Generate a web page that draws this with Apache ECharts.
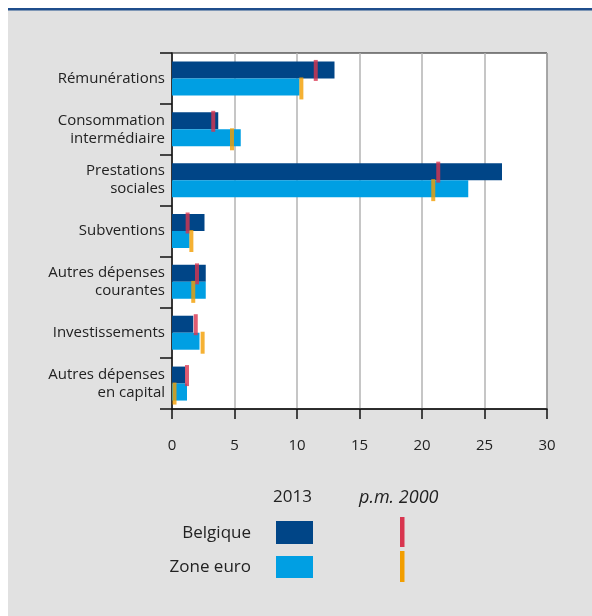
<!DOCTYPE html>
<html>
<head>
<meta charset="utf-8">
<script src="https://cdn.jsdelivr.net/npm/echarts@6/dist/echarts.min.js"></script>
<style>
html,body{margin:0;padding:0;background:#fff;}
#chart{width:592px;height:616px;}
</style>
</head>
<body>
<div id="chart"></div>
<script>
var categories = ['Rémunérations', 'Consommation\nintermédiaire', 'Prestations\nsociales', 'Subventions', 'Autres dépenses\ncourantes', 'Investissements', 'Autres dépenses\nen capital'];
var belgique2013 = [13.0, 3.7, 26.4, 2.6, 2.7, 1.7, 1.05];
var zoneEuro2013 = [10.2, 5.5, 23.7, 1.4, 2.7, 2.2, 1.2];
var belgique2000 = [11.5, 3.3, 21.3, 1.25, 2.0, 1.9, 1.2];
var zoneEuro2000 = [10.35, 4.8, 20.9, 1.55, 1.7, 2.45, 0.2];
var xTicks = [0, 5, 10, 15, 20, 25, 30];

var darkBlue = '#004587';
var lightBlue = '#009fe3';
var red = '#d8354f';
var orange = '#f29e00';
var font = 'Open Sans';

var chart = echarts.init(document.getElementById('chart'), null, {renderer: 'canvas'});
chart.setOption({
  animation: false,
  backgroundColor: '#ffffff',
  textStyle: {fontFamily: font},
  grid: {left: 172, top: 53, right: 45, bottom: 207, show: true, borderColor: '#111', borderWidth: 1, backgroundColor: '#ffffff', containLabel: false},
  xAxis: {
    type: 'value', min: xTicks[0], max: xTicks[xTicks.length - 1], interval: 5,
    axisLine: {show: true, lineStyle: {color: '#111', width: 1.5}},
    axisTick: {show: true, length: 10, lineStyle: {color: '#111', width: 1.5}},
    axisLabel: {margin: 29, fontSize: 15, color: '#222', fontFamily: font},
    splitLine: {show: true, lineStyle: {color: '#b3b3b3', width: 1.5}}
  },
  yAxis: {
    type: 'category', data: categories, inverse: true,
    axisLine: {show: true, lineStyle: {color: '#111', width: 1.5}},
    axisTick: {show: true, length: 12, lineStyle: {color: '#111', width: 1.5}},
    axisLabel: {margin: 7, fontSize: 15, lineHeight: 18, color: '#222', fontFamily: font, align: 'right'}
  },
  series: [
    {name: 'Belgique', type: 'bar', data: belgique2013, barWidth: 17, barGap: '0%', itemStyle: {color: darkBlue}, z: 2},
    {name: 'Zone euro', type: 'bar', data: zoneEuro2013, barWidth: 17, barGap: '0%', itemStyle: {color: lightBlue}, z: 2},
    {name: 'Belgique p.m. 2000', type: 'scatter', data: belgique2000.map(function(v, i){return [v, categories[i]];}),
      symbol: 'rect', symbolSize: [4, 21], symbolOffset: [0, -8], itemStyle: {color: red}, z: 5},
    {name: 'Zone euro p.m. 2000', type: 'scatter', data: zoneEuro2000.map(function(v, i){return [v, categories[i]];}),
      symbol: 'rect', symbolSize: [4, 22], symbolOffset: [0, 10], itemStyle: {color: orange}, z: 5}
  ],
  graphic: [
    {type: 'rect', z: -10, silent: true, shape: {x: 8, y: 10, width: 584, height: 606}, style: {fill: '#e1e1e1'}},
    {type: 'rect', z: -9, silent: true, shape: {x: 8, y: 8, width: 584, height: 2.5}, style: {fill: '#1f4e8c'}},
    {type: 'text', left: 273, top: 489, style: {text: '2013', font: '17px "Open Sans"', fill: '#222'}},
    {type: 'text', left: 359, top: 489, style: {text: 'p.m. 2000', font: 'italic 18px "Open Sans"', fill: '#222'}},
    {type: 'text', right: 592 - 251, top: 525, style: {text: 'Belgique', font: '17px "Open Sans"', fill: '#222'}},
    {type: 'text', right: 592 - 251, top: 559, style: {text: 'Zone euro', font: '17px "Open Sans"', fill: '#222'}},
    {type: 'rect', shape: {x: 276, y: 521, width: 37, height: 23}, style: {fill: darkBlue}},
    {type: 'rect', shape: {x: 276, y: 556, width: 37, height: 22}, style: {fill: lightBlue}},
    {type: 'rect', shape: {x: 400, y: 517, width: 4.5, height: 30}, style: {fill: red}},
    {type: 'rect', shape: {x: 400, y: 551, width: 4.5, height: 31}, style: {fill: orange}}
  ]
});
</script>
</body>
</html>
